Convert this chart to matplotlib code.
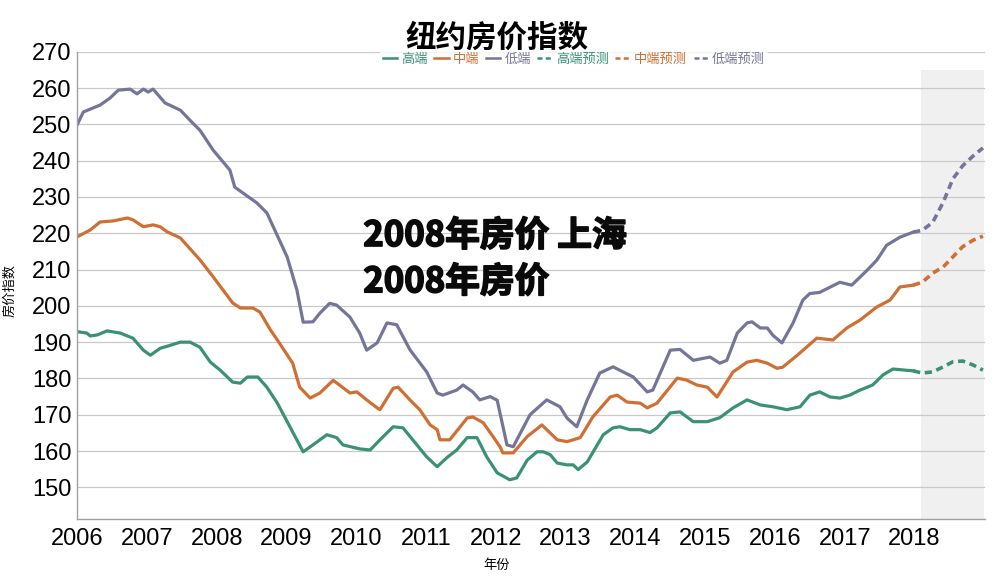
import numpy as np
import matplotlib.pyplot as plt
import matplotlib.patheffects as pe

plt.rcParams['font.family'] = ['Liberation Sans', 'Noto Sans CJK SC', 'DejaVu Sans']

# ---- data (year, index) ----
hi_year = [2006.00, 2006.14, 2006.19, 2006.29, 2006.43, 2006.62, 2006.80, 2006.95, 2007.05, 2007.19,
           2007.33, 2007.48, 2007.62, 2007.76, 2007.91, 2008.05, 2008.23, 2008.34, 2008.44, 2008.59,
           2008.72, 2008.87, 2009.05, 2009.24, 2009.38, 2009.58, 2009.72, 2009.81, 2010.05, 2010.20,
           2010.34, 2010.53, 2010.67, 2010.81, 2011.01, 2011.16, 2011.30, 2011.44, 2011.59, 2011.73,
           2011.87, 2012.02, 2012.20, 2012.30, 2012.45, 2012.59, 2012.68, 2012.78, 2012.88, 2013.02,
           2013.11, 2013.18, 2013.31, 2013.54, 2013.68, 2013.78, 2013.92, 2014.07, 2014.21, 2014.31,
           2014.50, 2014.64, 2014.83, 2015.03, 2015.21, 2015.40, 2015.60, 2015.79, 2015.97, 2016.17,
           2016.36, 2016.50, 2016.64, 2016.79, 2016.93, 2017.07, 2017.22, 2017.40, 2017.55, 2017.69,
           2017.98]
hi_val = [192.9, 192.5, 191.7, 192.0, 193.1, 192.5, 191.1, 187.8, 186.4, 188.3,
          189.1, 190.0, 190.0, 188.6, 184.5, 182.3, 179.0, 178.7, 180.4, 180.4,
          177.6, 173.2, 166.7, 159.8, 161.7, 164.5, 163.7, 161.7, 160.6, 160.3,
          163.1, 166.7, 166.4, 163.1, 158.4, 155.7, 158.2, 160.3, 163.7, 163.7,
          158.4, 154.0, 152.1, 152.6, 157.5, 159.8, 159.8, 159.0, 156.7, 156.2,
          156.2, 154.9, 157.0, 164.5, 166.4, 166.7, 165.9, 165.9, 165.1, 166.4,
          170.5, 170.8, 168.1, 168.1, 169.2, 171.9, 174.1, 172.7, 172.2, 171.4,
          172.2, 175.4, 176.3, 174.9, 174.6, 175.4, 176.8, 178.2, 181.0, 182.6,
          182.1]

mid_year = [2006.00, 2006.19, 2006.33, 2006.52, 2006.72, 2006.80, 2006.95, 2007.09, 2007.19, 2007.29,
            2007.48, 2007.76, 2007.95, 2008.09, 2008.23, 2008.34, 2008.52, 2008.62, 2008.77, 2008.87,
            2009.09, 2009.19, 2009.34, 2009.48, 2009.67, 2009.91, 2010.01, 2010.15, 2010.30, 2010.34,
            2010.53, 2010.60, 2010.77, 2010.91, 2011.06, 2011.16, 2011.20, 2011.34, 2011.49, 2011.59,
            2011.67, 2011.82, 2011.96, 2012.06, 2012.10, 2012.25, 2012.45, 2012.66, 2012.73, 2012.88,
            2013.02, 2013.21, 2013.39, 2013.64, 2013.74, 2013.88, 2014.07, 2014.17, 2014.31, 2014.60,
            2014.74, 2014.88, 2015.03, 2015.17, 2015.40, 2015.60, 2015.74, 2015.89, 2016.03, 2016.11,
            2016.32, 2016.60, 2016.83, 2017.03, 2017.22, 2017.46, 2017.65, 2017.79, 2017.98]
mid_val = [219.0, 220.9, 223.1, 223.4, 224.2, 223.7, 221.8, 222.3, 221.8, 220.4,
           218.7, 212.7, 208.0, 204.4, 200.8, 199.4, 199.4, 198.3, 193.4, 190.6,
           184.2, 177.6, 174.6, 176.0, 179.5, 176.0, 176.3, 174.1, 171.9, 171.4,
           177.3, 177.6, 174.1, 171.4, 167.2, 165.9, 163.1, 163.1, 166.7, 169.1,
           169.4, 167.8, 164.0, 161.2, 159.5, 159.5, 164.0, 167.2, 165.9, 163.1,
           162.6, 163.7, 169.4, 174.9, 175.4, 173.5, 173.2, 171.9, 173.2, 180.1,
           179.5, 178.2, 177.6, 174.9, 181.8, 184.5, 185.0, 184.2, 182.8, 183.1,
           186.4, 191.1, 190.6, 193.9, 196.1, 199.7, 201.6, 205.2, 205.7]

lo_year = [2006.00, 2006.09, 2006.33, 2006.47, 2006.59, 2006.76, 2006.86, 2006.95, 2007.02, 2007.09,
           2007.26, 2007.48, 2007.66, 2007.76, 2007.95, 2008.19, 2008.26, 2008.58, 2008.72, 2009.01,
           2009.15, 2009.24, 2009.38, 2009.48, 2009.62, 2009.72, 2009.91, 2010.05, 2010.15, 2010.30,
           2010.44, 2010.58, 2010.77, 2011.01, 2011.16, 2011.24, 2011.44, 2011.53, 2011.67, 2011.77,
           2011.92, 2012.02, 2012.16, 2012.25, 2012.49, 2012.73, 2012.92, 2013.02, 2013.16, 2013.31,
           2013.49, 2013.68, 2013.97, 2014.17, 2014.25, 2014.50, 2014.64, 2014.83, 2015.07, 2015.21,
           2015.31, 2015.46, 2015.60, 2015.67, 2015.79, 2015.89, 2015.97, 2016.10, 2016.26, 2016.40,
           2016.50, 2016.64, 2016.93, 2017.10, 2017.32, 2017.46, 2017.60, 2017.79, 2017.98]
lo_val = [249.8, 253.4, 255.3, 257.2, 259.4, 259.7, 258.4, 259.7, 258.9, 259.7,
          255.9, 253.9, 250.3, 248.4, 242.9, 237.4, 232.7, 228.3, 225.6, 213.5,
          204.4, 195.5, 195.6, 198.0, 200.7, 200.2, 196.9, 192.5, 187.8, 189.8,
          195.3, 194.8, 187.9, 181.8, 176.0, 175.4, 176.8, 178.2, 176.3, 174.1,
          175.0, 174.0, 161.7, 161.2, 170.0, 174.1, 172.2, 169.1, 166.7, 174.1,
          181.5, 183.2, 180.4, 176.3, 176.8, 187.8, 188.0, 185.0, 185.9, 184.2,
          185.0, 192.5, 195.3, 195.6, 193.9, 193.9, 191.9, 189.8, 195.3, 201.6,
          203.4, 203.7, 206.5, 205.7, 209.8, 212.6, 216.7, 218.9, 220.3]

# forecasts
fc_year = [2017.98, 2018.11, 2018.26, 2018.41, 2018.55, 2018.69, 2018.84, 2018.98]
hi_fc = [182.1, 181.5, 181.8, 183.2, 184.6, 184.8, 183.7, 182.3]
mid_fc = [205.7, 206.5, 209.0, 210.7, 213.5, 216.3, 218.1, 219.2]
lo_fc = [220.3, 220.8, 223.0, 228.5, 235.0, 238.6, 241.3, 243.5]

years = list(range(2006, 2019))
yticks = list(range(150, 271, 10))

green = '#3a9176'
orange = '#cf6f34'
purple = '#75759a'

fig = plt.figure(figsize=(9.98, 5.76), dpi=100)
ax = fig.add_axes([0.0772, 0.0984, 0.9098, 0.8118])

ymin, ymax = 141.2, 270
ax.set_xlim(2006, 2019.01)
ax.set_ylim(ymin, ymax)

# forecast band
ax.fill_between([2018.09, 2019.0], ymin, 265, color='#f1f0f1', zorder=0, lw=0)

lw = 2.3
ax.plot(hi_year, hi_val, color=green, lw=lw, label='高端')
ax.plot(mid_year, mid_val, color=orange, lw=lw, label='中端')
ax.plot(lo_year, lo_val, color=purple, lw=lw, label='低端')
dash = (0, (2.0, 1.3))
ax.plot(fc_year, hi_fc, color=green, lw=2.6, ls=dash, label='高端预测')
ax.plot(fc_year, mid_fc, color=orange, lw=2.6, ls=dash, label='中端预测')
ax.plot(fc_year, lo_fc, color=purple, lw=2.6, ls=dash, label='低端预测')

ax.set_yticks(yticks)
ax.set_xticks(years)
ax.tick_params(axis='both', length=0, labelsize=17)
ax.tick_params(axis='y', pad=4)
ax.tick_params(axis='x', pad=6)
ax.grid(axis='y', color='#c9c9c9', lw=0.9)
ax.set_axisbelow(True)
for s in ['top', 'right']:
    ax.spines[s].set_visible(False)
for s in ['left', 'bottom']:
    ax.spines[s].set_color('#a0a0a0')
    ax.spines[s].set_linewidth(1.0)

ax.set_ylabel('房价指数', fontsize=9.5, family=['Noto Sans CJK SC'])
ax.yaxis.set_label_coords(-0.067, 0.49)
ax.set_xlabel('年份', fontsize=9.5, family=['Noto Sans CJK SC'])
ax.xaxis.set_label_coords(0.462, -0.085)

fig.text(0.498, 0.935, '纽约房价指数', ha='center', va='center', fontsize=22,
         fontweight='bold', family=['Noto Sans CJK SC'])

leg = fig.legend(loc='center', bbox_to_anchor=(0.575, 0.897), ncol=6, frameon=True,
                 handlelength=1.1, handletextpad=0.3, columnspacing=0.5,
                 borderpad=0.2, prop={'family': ['Noto Sans CJK SC'], 'size': 9.5})
leg.get_frame().set_facecolor('white')
leg.get_frame().set_edgecolor('none')
for txt, c in zip(leg.get_texts(), [green, orange, purple, green, orange, purple]):
    txt.set_color(c)
for h in leg.legend_handles:
    h.set_linewidth(1.8)

# overlay caption on the chart (stroke makes it look heavier like the original)
cap = fig.text(0.364, 0.551, '2008年房价 上海\n2008年房价', ha='left', va='center', fontsize=25,
               fontweight='bold', family=['Noto Sans CJK SC'], linespacing=1.4, color='#0a0a0a')
cap.set_path_effects([pe.withStroke(linewidth=1.2, foreground='#0a0a0a')])

fig.savefig('out.png', dpi=100)
